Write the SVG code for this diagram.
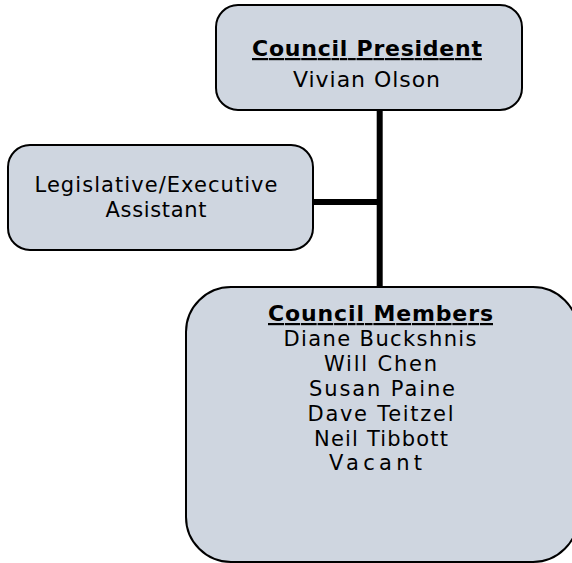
<svg xmlns="http://www.w3.org/2000/svg" width="572" height="563" viewBox="0 0 572 563">
<style>
.box{fill:#cfd6e0;stroke:#000;stroke-width:2}
.t{font-family:"DejaVu Sans",Verdana,sans-serif;font-size:21px;fill:#000;text-anchor:middle}
.h{font-weight:bold;text-decoration:underline}
.big{font-size:22px}
.conn{stroke:#000;stroke-width:6;fill:none}
</style>
<rect width="572" height="563" fill="#fff"/>
<g id="connectors">
<line class="conn" x1="379.7" y1="110" x2="379.7" y2="288"/>
<line class="conn" x1="313" y1="202" x2="380" y2="202"/>
</g>
<g id="president">
<rect class="box" x="216" y="5" width="306" height="105" rx="22"/>
<text class="t big h" x="367" y="56" textLength="230" lengthAdjust="spacing">Council President</text>
<text class="t big" x="366.5" y="86.5" textLength="147" lengthAdjust="spacing">Vivian Olson</text>
</g>
<g id="assistant">
<rect class="box" x="8" y="145" width="305" height="105" rx="22"/>
<text class="t" x="156" y="192" textLength="243" lengthAdjust="spacing">Legislative/Executive</text>
<text class="t" x="156" y="217" textLength="101" lengthAdjust="spacing">Assistant</text>
</g>
<g id="members">
<rect class="box" x="186" y="287" width="392" height="275" rx="45"/>
<text class="t h" x="380.5" y="321" textLength="225" lengthAdjust="spacing" style="font-size:22px">Council Members</text>
<text class="t" x="380" y="346" textLength="193" lengthAdjust="spacing">Diane Buckshnis</text>
<text class="t" x="380.5" y="370.5" textLength="113" lengthAdjust="spacing">Will Chen</text>
<text class="t" x="382" y="395.5" textLength="146" lengthAdjust="spacing">Susan Paine</text>
<text class="t" x="380.5" y="420.5" textLength="146" lengthAdjust="spacing">Dave Teitzel</text>
<text class="t" x="381" y="445.5" textLength="134" lengthAdjust="spacing">Neil Tibbott</text>
<text class="t" x="375.5" y="470" textLength="93" lengthAdjust="spacing">Vacant</text>
</g>
</svg>
